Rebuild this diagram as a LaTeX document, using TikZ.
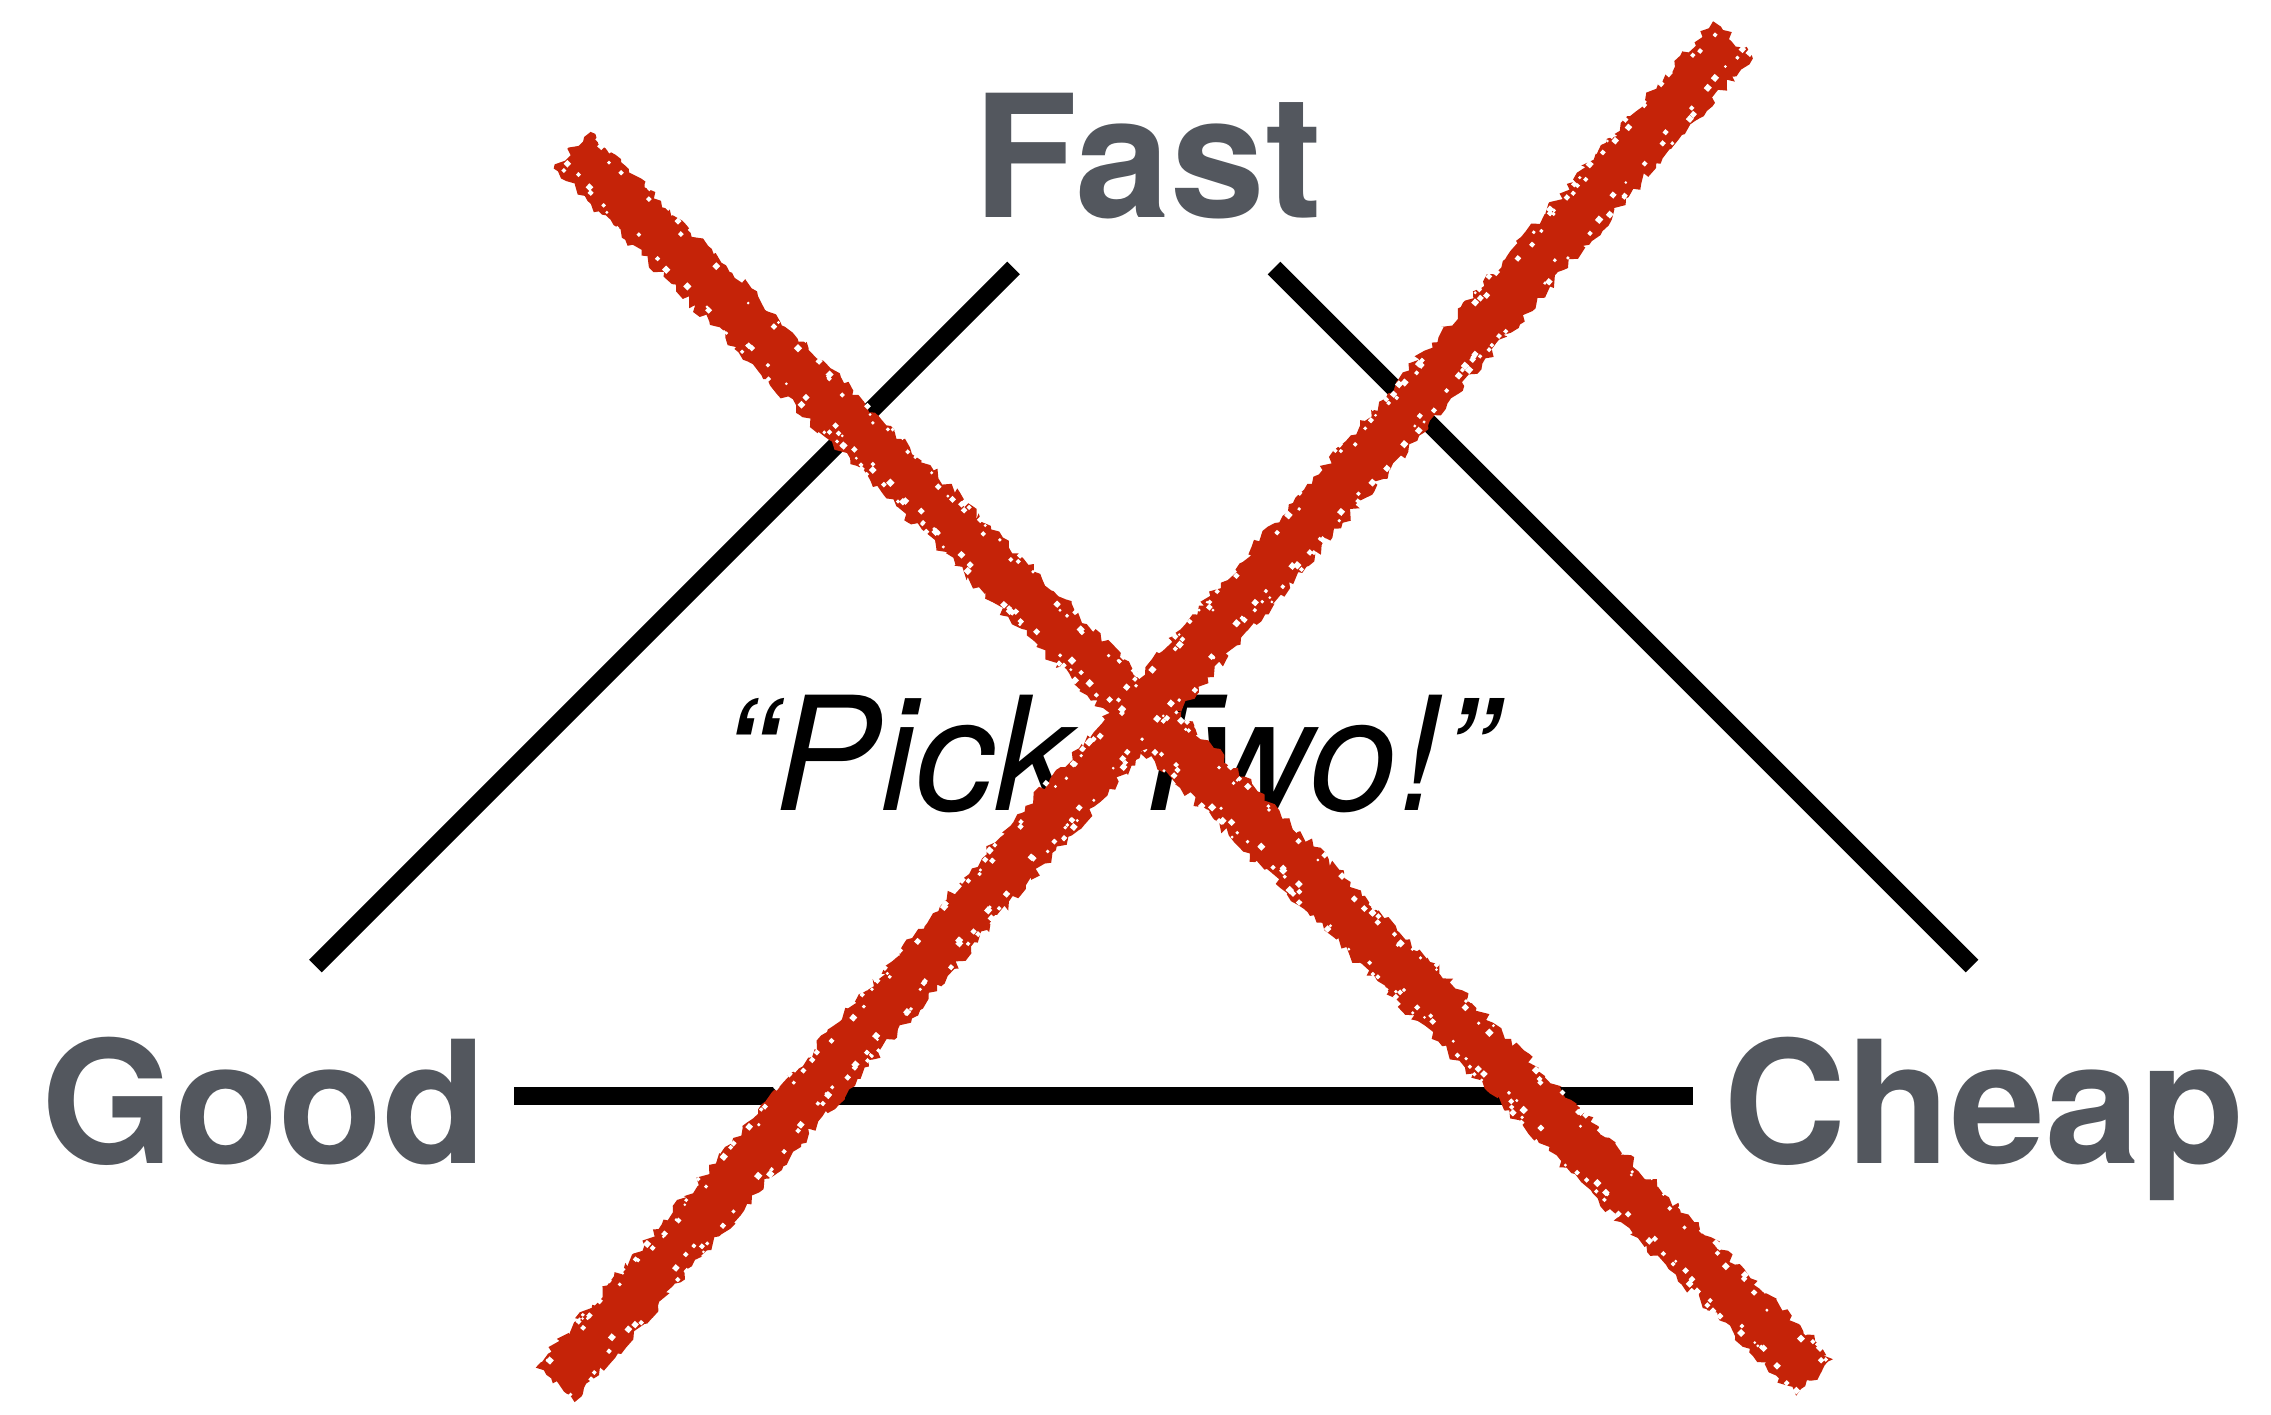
\documentclass[tikz,border=0pt]{standalone}
\usepackage{fontspec}
\setmainfont{TeX Gyre Heros}
\usetikzlibrary{decorations.pathmorphing}

\definecolor{labelgray}{RGB}{83,87,94}
\definecolor{markred}{RGB}{197,35,8}

\tikzset{
  corner/.style={text=labelgray, font=\fontsize{48.5pt}{50pt}\selectfont\bfseries,
                 anchor=base, inner sep=0pt},
  slogan/.style={text=black, font=\fontsize{45pt}{46pt}\selectfont\itshape,
                 anchor=base, inner sep=0pt},
  side/.style={draw=black, line width=0.18cm, line cap=butt},
  rough/.style={fill=markred, decorate,
                decoration={random steps, segment length=1.6pt, amplitude=1.2pt}}
}

% A marker stroke: origin x, origin y, angle, length (in the picture's units)
\newcommand{\markerstroke}[4]{%
  \begin{scope}[shift={(#1,#2)}, rotate=#3]
    \path[rough] (0,-26) -- (#4,-26) -- (#4,26) -- (0,26) -- cycle;
    \foreach \k in {1,...,320} {
      \pgfmathsetmacro\px{rnd*#4}
      \pgfmathsetmacro\py{(rnd<0.5 ? 1 : -1)*(27-rnd*14)}
      \pgfmathsetmacro\ps{2+rnd*4}
      \fill[white] (\px,\py) rectangle ++(\ps,\ps);
    }
  \end{scope}}

\begin{document}
\begin{tikzpicture}[x=0.01cm, y=0.01cm]
  \useasboundingbox[fill=white] (0,0) rectangle (2271,-1415);

  % labels
  \node[corner] (fast)  at (1148,-217)  {Fast};
  \node[corner] (good)  at (264,-1163)  {Good};
  \node[corner] (cheap) at (1984,-1163) {Cheap};
  \node[slogan] (pick)  at (1108,-810)  {“Pick Two!”};

  % triangle sides
  \coordinate (gtop)  at (315.5,-966);
  \coordinate (ftopl) at (1013.5,-268);
  \coordinate (ftopr) at (1274,-268);
  \coordinate (ctop)  at (1972,-966);
  \coordinate (gbase) at (514,-1096);
  \coordinate (cbase) at (1693,-1096);
  \draw[side] (gtop) -- (ftopl);
  \draw[side] (ftopr) -- (ctop);
  \draw[side] (gbase) -- (cbase);

  % the red cross
  \pgfmathsetseed{7}
  \markerstroke{572}{-150}{-44.65}{1747}
  \markerstroke{555}{-1385}{48.83}{1789}
\end{tikzpicture}
\end{document}
